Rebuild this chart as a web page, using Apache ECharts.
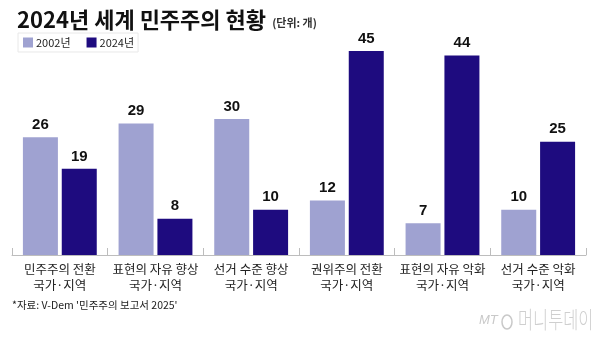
<!DOCTYPE html>
<html>
<head>
<meta charset="utf-8">
<script src="https://cdn.jsdelivr.net/npm/echarts@6/dist/echarts.min.js"></script>
<style>
  html, body { margin: 0; padding: 0; background: #fff; }
  #chart { width: 600px; height: 339px; }
</style>
</head>
<body>
<div id="chart"></div>
<script>
// Categories (two-line axis labels) and series values
const categories = [
  '민주주의 전환\n국가·지역',
  '표현의 자유 향상\n국가·지역',
  '선거 수준 향상\n국가·지역',
  '권위주의 전환\n국가·지역',
  '표현의 자유 악화\n국가·지역',
  '선거 수준 악화\n국가·지역'
];
const seriesNames = ['2002년', '2024년'];
const values2002 = [26, 29, 30, 12, 7, 10];
const values2024 = [19, 8, 10, 45, 44, 25];

const FONT = '"Noto Sans CJK KR", "Noto Sans", sans-serif';
const NUM_FONT = '"Liberation Sans", Arial, sans-serif';
const COLOR_2002 = '#9fa2d1';
const COLOR_2024 = '#1e0b7f';

const chart = echarts.init(document.getElementById('chart'), null, { renderer: 'canvas' });

const valueLabel = {
  show: true,
  position: 'top',
  distance: 5,
  color: '#111',
  fontFamily: NUM_FONT,
  fontWeight: 'bold',
  fontSize: 15
};

chart.setOption({
  animation: false,
  backgroundColor: '#fff',
  textStyle: { fontFamily: FONT },
  title: {
    left: 12,
    top: 4,
    text: '{a|2024년 세계 민주주의 현황} {b|(단위: 개)}',
    textStyle: {
      rich: {
        a: { fontFamily: FONT, fontSize: 22, fontWeight: 'bold', color: '#111' },
        b: { fontFamily: FONT, fontSize: 11, color: '#333', padding: [5, 0, 0, 2] }
      }
    }
  },
  legend: {
    left: 18,
    top: 33,
    data: seriesNames,
    icon: 'rect',
    itemWidth: 10,
    itemHeight: 10,
    itemGap: 16,
    padding: [4, 4, 4, 5],
    borderColor: '#e8e8e8',
    borderWidth: 1,
    textStyle: { fontFamily: FONT, fontSize: 11, color: '#222', padding: [0, 0, 0, -2] }
  },
  grid: { left: 12, right: 14, top: 51, bottom: 84, containLabel: false },
  xAxis: {
    type: 'category',
    data: categories,
    axisLine: { show: true, lineStyle: { color: '#bdbdbd', width: 1 } },
    axisTick: { show: true, inside: true, length: 7, lineStyle: { color: '#bdbdbd' } },
    axisLabel: {
      interval: 0,
      margin: 6,
      fontFamily: FONT,
      fontSize: 12.5,
      lineHeight: 16,
      color: '#222'
    }
  },
  yAxis: {
    type: 'value',
    min: 0,
    max: 45,
    show: false,
    splitLine: { show: false }
  },
  series: [
    {
      name: seriesNames[0],
      type: 'bar',
      data: values2002,
      barWidth: 35,
      barGap: '11%',
      itemStyle: { color: COLOR_2002 },
      label: valueLabel
    },
    {
      name: seriesNames[1],
      type: 'bar',
      data: values2024,
      barWidth: 35,
      barGap: '11%',
      itemStyle: { color: COLOR_2024 },
      label: valueLabel
    }
  ],
  graphic: [
    {
      type: 'text',
      left: 12,
      top: 300,
      style: {
        text: '*자료: V-Dem \'민주주의 보고서 2025\'',
        fontFamily: FONT,
        fontSize: 10.5,
        fill: '#222'
      }
    },
    {
      type: 'text',
      x: 479,
      y: 314,
      style: {
        text: 'MT',
        fontFamily: NUM_FONT,
        fontStyle: 'italic',
        fontSize: 13,
        fill: '#c9c9c9'
      }
    },
    {
      type: 'ellipse',
      shape: { cx: 507, cy: 322, rx: 5, ry: 7 },
      style: { fill: 'none', stroke: '#c9c9c9', lineWidth: 1.5 }
    },
    {
      type: 'text',
      x: 518,
      y: 308,
      scaleX: 0.78,
      scaleY: 1.1,
      style: {
        text: '머니투데이',
        fontFamily: FONT,
        fontWeight: 300,
        fontSize: 21,
        fill: '#cfcfcf'
      }
    }
  ]
});
</script>
</body>
</html>
